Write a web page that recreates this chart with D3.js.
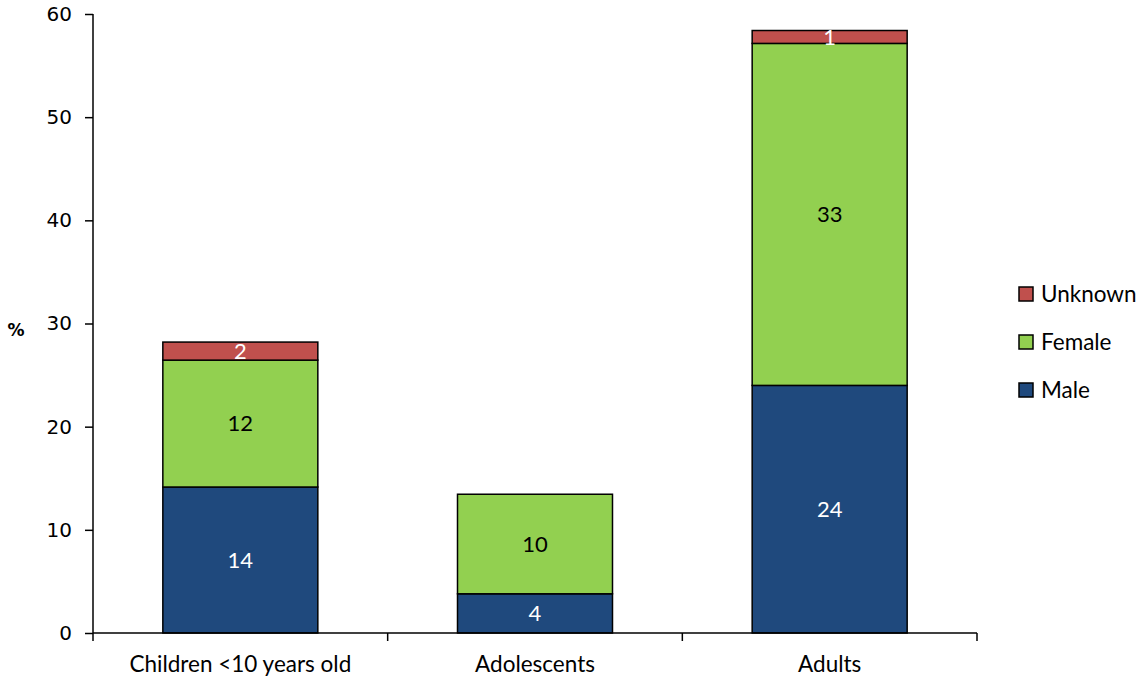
<!DOCTYPE html>
<html><head><meta charset="utf-8">
<script src="https://cdn.jsdelivr.net/npm/d3@7"></script>
<style>body{margin:0;background:#fff}svg{display:block}</style>
</head><body>
<svg id="c" width="1144" height="682"></svg>
<script>
const categories = ["Children <10 years old", "Adolescents", "Adults"];
const male = [14.15, 3.8, 24.0];
const female = [12.3, 9.65, 33.15];
const unknown = [1.75, 0, 1.25];
const maleLabels = ["14", "4", "24"];
const femaleLabels = ["12", "10", "33"];
const unknownLabels = ["2", "", "1"];
const yTicks = [0, 10, 20, 30, 40, 50, 60];
const seriesNames = ["Male", "Female", "Unknown"];
const colors = ["#1F497D", "#92D050", "#C0504D"];
const labelColors = ["#fff", "#000", "#fff"];

const svg = d3.select("#c");
const mLeft = 93, mRight = 977, mTop = 14, mBottom = 633;
const FONT = "Lato, 'Open Sans', sans-serif";
const x = d3.scaleBand().domain(categories).range([mLeft, mRight]).paddingInner(0.474).paddingOuter(0.237);
const y = d3.scaleLinear().domain([0, 60]).range([mBottom, mTop]);

const rows = categories.map((c, i) => ({cat: c, Male: male[i], Female: female[i], Unknown: unknown[i]}));
const stack = d3.stack().keys(seriesNames)(rows);
const labels = [maleLabels, femaleLabels, unknownLabels];

const g = svg.append("g");
stack.forEach((s, si) => {
  s.forEach((d, i) => {
    if (d[1] - d[0] <= 0) return;
    g.append("rect")
      .attr("x", x(categories[i])).attr("width", x.bandwidth())
      .attr("y", y(d[1])).attr("height", y(d[0]) - y(d[1]))
      .attr("fill", colors[si]).attr("stroke", "#000").attr("stroke-width", 1.5);
  });
});
stack.forEach((s, si) => {
  s.forEach((d, i) => {
    const t = labels[si][i];
    if (!t) return;
    g.append("text")
      .attr("x", x(categories[i]) + x.bandwidth() / 2)
      .attr("y", (y(d[0]) + y(d[1])) / 2)
      .attr("dy", "0.36em").attr("text-anchor", "middle")
      .attr("font-family", FONT).attr("font-size", 22)
      .attr("fill", labelColors[si]).text(t);
  });
});

// Y axis
const yAxis = svg.append("g").attr("transform", `translate(${mLeft},0)`)
  .call(d3.axisLeft(y).tickValues(yTicks).tickSize(8).tickPadding(13));
yAxis.select(".domain").attr("stroke", "#000").attr("stroke-width", 1.5).attr("d", `M0,${mTop}V${mBottom}`);
yAxis.selectAll(".tick line").attr("stroke", "#000").attr("stroke-width", 1.5);
yAxis.selectAll(".tick text").attr("font-family", "'DejaVu Sans', Verdana, sans-serif").attr("font-size", 20).attr("fill", "#000");

// X axis
const xAxis = svg.append("g").attr("transform", `translate(0,${mBottom})`)
  .call(d3.axisBottom(x).tickSize(0).tickPadding(23));
xAxis.select(".domain").attr("stroke", "#000").attr("stroke-width", 1.5).attr("d", `M${mLeft},0H${mRight}`);
xAxis.selectAll(".tick text").attr("font-family", FONT).attr("font-size", 22.5).attr("fill", "#000");
const sep = [mLeft, ...categories.map(c => x(c) + x.bandwidth() + x.step() * x.paddingInner() / 2)];
sep[sep.length - 1] = mRight;
svg.append("g").selectAll("line").data(sep).join("line")
  .attr("x1", d => d).attr("x2", d => d).attr("y1", mBottom).attr("y2", mBottom + 8)
  .attr("stroke", "#000").attr("stroke-width", 1.5);

// Y title
svg.append("text").attr("x", 16).attr("y", 330).attr("dy", "0.36em").attr("text-anchor", "middle")
  .attr("font-family", "'DejaVu Sans', Verdana, sans-serif").attr("font-size", 17).attr("font-weight", "bold").text("%");

// Legend
const legendOrder = ["Unknown", "Female", "Male"];
const leg = svg.append("g");
legendOrder.forEach((n, i) => {
  const cy = 294 + i * 48;
  leg.append("rect").attr("x", 1019).attr("y", cy - 7).attr("width", 14).attr("height", 14)
    .attr("fill", colors[seriesNames.indexOf(n)]).attr("stroke", "#000").attr("stroke-width", 1.5);
  leg.append("text").attr("x", 1041).attr("y", cy).attr("dy", "0.36em")
    .attr("font-family", FONT).attr("font-size", 22.5).text(n);
});
</script>
</body></html>
